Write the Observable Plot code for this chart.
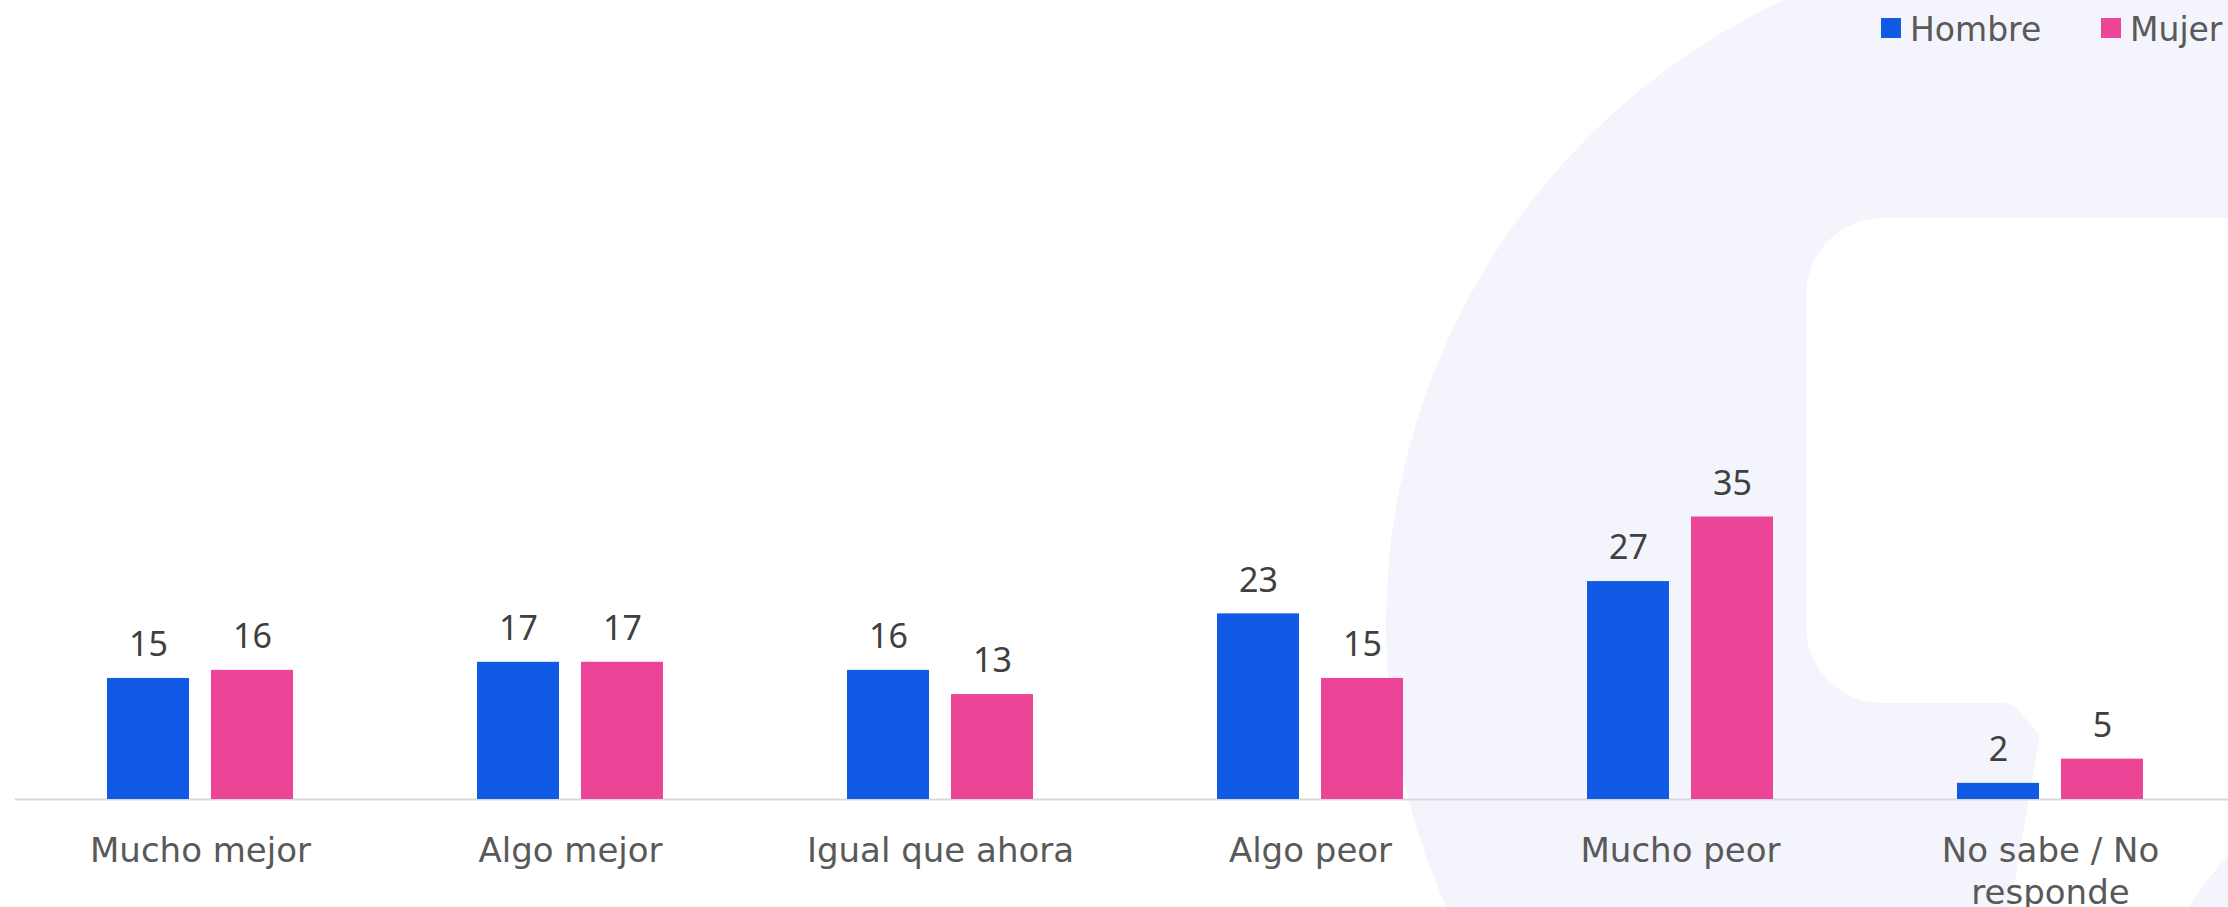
<!DOCTYPE html>
<html>
<head>
<meta charset="utf-8">
<script src="https://cdn.jsdelivr.net/npm/d3@7"></script>
<script src="https://cdn.jsdelivr.net/npm/@observablehq/plot@0.6"></script>
<style>
  html, body { margin: 0; padding: 0; background: #ffffff; overflow: hidden; }
  #wrap { position: relative; width: 2228px; height: 907px; overflow: hidden; }
  #bg, #chart { position: absolute; left: 0; top: 0; }
  .leg { position: absolute; top: 0; height: 58px; display: flex; align-items: center;
         font-family: "DejaVu Sans", sans-serif; font-size: 33px; color: #595959; white-space: nowrap; }
  .leg .sw { width: 20px; height: 20px; margin-right: 9px; margin-top: -2px; }
</style>
</head>
<body>
<div id="wrap">
  <svg id="bg" width="2228" height="907" xmlns="http://www.w3.org/2000/svg">
    <defs>
      <clipPath id="outer"><circle cx="2076" cy="625" r="690"/></clipPath>
    </defs>
    <g clip-path="url(#outer)">
      <rect x="0" y="0" width="2228" height="907" fill="#f3f4fc"/>
      <rect x="1806" y="218" width="800" height="485" rx="77" ry="77" fill="#ffffff"/>
      <path d="M2000,690 L2400,690 L2400,760 Q2240,800 2170,940 L2005,940 Q2030,790 2040,735 Z" fill="#ffffff"/>
      <path d="M2040,703 L2040,743 A40,40 0 0 0 2000,703 Z" fill="#ffffff"/>
    </g>
  </svg>
  <div id="chart"></div>
  <div class="leg" style="left:1881px"><div class="sw" style="background:#105ae5"></div>Hombre</div>
  <div class="leg" style="left:2101px"><div class="sw" style="background:#ec4497"></div>Mujer</div>
</div>
<script>
const categories = ["Mucho mejor", "Algo mejor", "Igual que ahora", "Algo peor", "Mucho peor", "No sabe / No responde"];
const categoryLabels = ["Mucho mejor", "Algo mejor", "Igual que ahora", "Algo peor", "Mucho peor", "No sabe / No\nresponde"];
const series = ["Hombre", "Mujer"];
const hombre = [15, 17, 16, 23, 27, 2];
const mujer = [16, 17, 13, 15, 35, 5];
const colors = ["#105ae5", "#ec4497"];

const rows = categories.flatMap((c, i) => [
  {cat: c, sex: series[0], value: hombre[i]},
  {cat: c, sex: series[1], value: mujer[i]}
]);

const chart = Plot.plot({
  width: 2228,
  height: 907,
  marginTop: 0,
  marginBottom: 108,
  marginLeft: 14,
  marginRight: 0,
  style: {background: "transparent", fontFamily: "'Noto Sans', sans-serif", overflow: "visible"},
  fx: {domain: categories, range: [12.5, 2237.5], padding: 0, axis: null},
  x: {domain: series, paddingInner: 0.21, paddingOuter: 0.87, axis: null},
  y: {domain: [0, 99], axis: null},
  color: {domain: series, range: colors},
  marks: [
    Plot.ruleY([0], {stroke: "#d9d9d9", strokeWidth: 2}),
    Plot.barY(rows, {fx: "cat", x: "sex", y: "value", fill: "sex"}),
    Plot.text(rows, {fx: "cat", x: "sex", y: "value", text: d => String(d.value),
      dy: -33, fill: "#404040", fontSize: 34}),
    Plot.text(categories, {fx: d => d, y: () => 0, text: (d, i) => categoryLabels[i],
      lineAnchor: "top", dy: 32, fontSize: 34, lineHeight: 1.25, fill: "#595959",
      fontFamily: "'DejaVu Sans', sans-serif"})
  ]
});
document.getElementById("chart").appendChild(chart);
</script>
</body>
</html>
